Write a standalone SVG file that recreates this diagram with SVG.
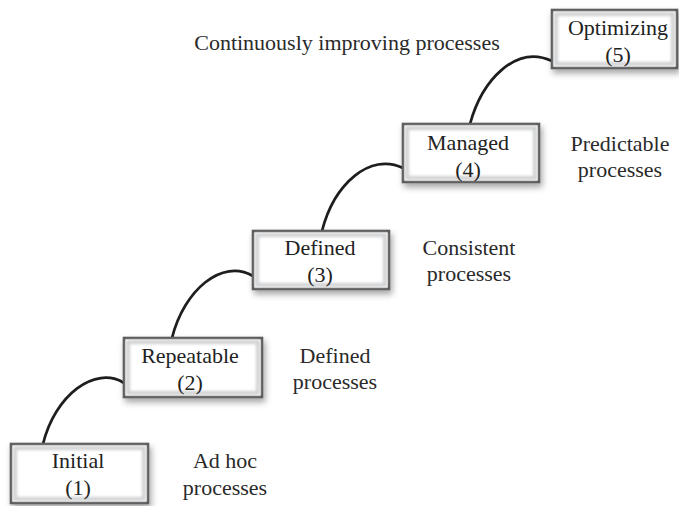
<svg xmlns="http://www.w3.org/2000/svg" width="679" height="506" viewBox="0 0 679 506">
  <defs>
    <filter id="drop" x="-10%" y="-20%" width="130%" height="150%">
      <feDropShadow dx="2" dy="4" stdDeviation="3" flood-color="#000" flood-opacity="0.35"/>
    </filter>
    <filter id="soft" x="-5%" y="-10%" width="110%" height="120%">
      <feGaussianBlur stdDeviation="1.6"/>
    </filter>
    <style>
      .frame { fill: #ffffff; stroke: #5b5b5b; stroke-width: 2.6; filter: url(#drop); }
      .glow { fill: none; stroke: #cfd0d2; stroke-width: 4; filter: url(#soft); }
      .step { font-family: "Liberation Serif", "Times New Roman", serif; font-size: 22px; fill: #222; text-anchor: middle; }
      .note { font-family: "Liberation Serif", "Times New Roman", serif; font-size: 22px; fill: #2a2a2a; text-anchor: middle; }
      .link { fill: none; stroke: #1e1e1e; stroke-width: 2.7; stroke-linecap: round; }
    </style>
  </defs>

  <rect width="679" height="506" fill="#ffffff"/>

  <!-- connectors between levels -->
  <g id="connectors">
    <path class="link" d="M43,444 C55,395 95,365 124,383"/>
    <path class="link" d="M172,338 C184,290 222,258 253,276"/>
    <path class="link" d="M322,231 C334,184 370,152 403,168"/>
    <path class="link" d="M470,124 C482,80 516,44 552,61"/>
  </g>

  <g id="initial">
    <rect class="frame" x="11" y="444" width="137" height="59"/>
    <rect class="glow" x="15" y="448" width="129" height="51"/>
    <text class="step" x="78" y="468">Initial</text>
    <text class="step" x="78" y="495">(1)</text>
  </g>

  <g id="repeatable">
    <rect class="frame" x="124" y="338" width="138" height="59"/>
    <rect class="glow" x="128" y="342" width="130" height="51"/>
    <text class="step" x="190" y="363">Repeatable</text>
    <text class="step" x="190" y="390">(2)</text>
  </g>

  <g id="defined">
    <rect class="frame" x="253" y="231" width="136" height="58"/>
    <rect class="glow" x="257" y="235" width="128" height="50"/>
    <text class="step" x="320" y="255">Defined</text>
    <text class="step" x="320" y="282">(3)</text>
  </g>

  <g id="managed">
    <rect class="frame" x="403" y="124" width="136" height="58"/>
    <rect class="glow" x="407" y="128" width="128" height="50"/>
    <text class="step" x="468" y="150">Managed</text>
    <text class="step" x="468" y="177">(4)</text>
  </g>

  <g id="optimizing">
    <rect class="frame" x="552" y="10" width="125" height="58"/>
    <rect class="glow" x="556" y="14" width="117" height="50"/>
    <text class="step" x="618" y="35">Optimizing</text>
    <text class="step" x="618" y="62">(5)</text>
  </g>

  <!-- process descriptions -->
  <g id="labels">
    <text class="note" x="225" y="468">Ad hoc</text>
    <text class="note" x="225" y="495">processes</text>
    <text class="note" x="335" y="363">Defined</text>
    <text class="note" x="335" y="389">processes</text>
    <text class="note" x="469" y="255">Consistent</text>
    <text class="note" x="469" y="281">processes</text>
    <text class="note" x="620" y="151">Predictable</text>
    <text class="note" x="620" y="177">processes</text>
    <text class="note" x="347" y="50">Continuously improving processes</text>
  </g>
</svg>
